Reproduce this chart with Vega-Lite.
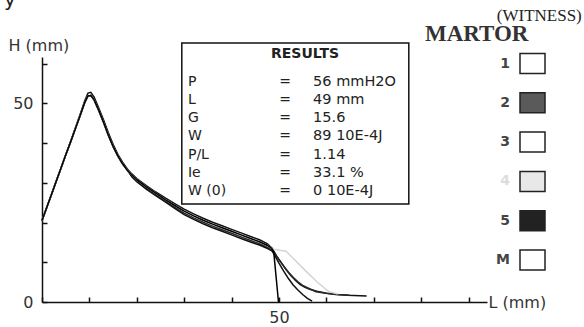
{
  "$schema": "https://vega.github.io/schema/vega-lite/v6.json",
  "width": 445,
  "height": 245,
  "autosize": {"type": "none"},
  "padding": {"left": 42, "top": 57, "right": 97, "bottom": 25},
  "background": "white",
  "config": {
    "view": {"stroke": null},
    "font": "DejaVu Sans",
    "axisX": {
      "values": [0,10,20,30,40,50,60,70,80,90],
      "grid": false, "domainColor": "#111", "domainWidth": 1.5,
      "tickColor": "#111", "tickWidth": 1.5, "tickSize": -5,
      "labelExpr": "datum.value == 50 ? '50' : ''",
      "labelFontSize": 16, "labelColor": "#333", "labelPadding": 12, "labelFlush": false,
      "titleX": 446, "titleY": 0, "titleAlign": "left", "titleBaseline": "middle",
      "titleFontSize": 16, "titleFontWeight": "normal", "titleColor": "#333"
    },
    "axisY": {
      "values": [0,10,20,30,40,50,60],
      "grid": false, "domainColor": "#111", "domainWidth": 1.5,
      "tickColor": "#111", "tickWidth": 1.5, "tickSize": -5,
      "labelExpr": "datum.value == 0 || datum.value == 50 ? datum.label : ''",
      "labelFontSize": 16, "labelColor": "#333", "labelPadding": 14, "labelFlush": false,
      "titleAngle": 0, "titleX": -34, "titleY": -12, "titleAlign": "left", "titleBaseline": "middle",
      "titleFontSize": 16, "titleFontWeight": "normal", "titleColor": "#333"
    }
  },
  "datasets": {
    "curves": [
      {"series":"1","L":0,"H":20.5},{"series":"1","L":1,"H":23.8},{"series":"1","L":2,"H":27.1},{"series":"1","L":3,"H":30.4},{"series":"1","L":4,"H":33.7},{"series":"1","L":5,"H":37.0},{"series":"1","L":6,"H":40.3},{"series":"1","L":7,"H":43.7},{"series":"1","L":8,"H":47.1},{"series":"1","L":9,"H":50.6},{"series":"1","L":9.7,"H":52.6},{"series":"1","L":10.3,"H":52.8},{"series":"1","L":11,"H":51.6},{"series":"1","L":12,"H":48.8},{"series":"1","L":13,"H":45.8},{"series":"1","L":14,"H":42.6},{"series":"1","L":15,"H":39.7},{"series":"1","L":16,"H":37.2},{"series":"1","L":17,"H":35.2},{"series":"1","L":18,"H":33.5},{"series":"1","L":19,"H":32.2},{"series":"1","L":20,"H":31.1},{"series":"1","L":22,"H":29.3},{"series":"1","L":24,"H":27.7},{"series":"1","L":26,"H":26.2},{"series":"1","L":28,"H":24.8},{"series":"1","L":30,"H":23.4},{"series":"1","L":32,"H":22.2},{"series":"1","L":34,"H":21.1},{"series":"1","L":36,"H":20.1},{"series":"1","L":38,"H":19.2},{"series":"1","L":40,"H":18.3},{"series":"1","L":42,"H":17.4},{"series":"1","L":44,"H":16.5},{"series":"1","L":46,"H":15.6},{"series":"1","L":47.5,"H":14.7},{"series":"1","L":48.5,"H":13.6},{"series":"1","L":49.5,"H":11.6},{"series":"1","L":50.5,"H":9.9},{"series":"1","L":51.5,"H":8.2},{"series":"1","L":52.5,"H":6.7},{"series":"1","L":53.5,"H":5.4},{"series":"1","L":54.5,"H":4.4},{"series":"1","L":55.5,"H":3.7},{"series":"1","L":56.5,"H":3.2},{"series":"1","L":58,"H":2.7},{"series":"1","L":60,"H":2.2},{"series":"1","L":62,"H":1.9},{"series":"1","L":64.5,"H":1.7},{"series":"1","L":68.5,"H":1.5},

      {"series":"2","L":0,"H":20.5},{"series":"2","L":1,"H":23.8},{"series":"2","L":2,"H":27.1},{"series":"2","L":3,"H":30.4},{"series":"2","L":4,"H":33.7},{"series":"2","L":5,"H":37.0},{"series":"2","L":6,"H":40.2},{"series":"2","L":7,"H":43.5},{"series":"2","L":8,"H":46.8},{"series":"2","L":9,"H":50.2},{"series":"2","L":9.7,"H":51.9},{"series":"2","L":10.3,"H":52.0},{"series":"2","L":11,"H":50.9},{"series":"2","L":12,"H":48.2},{"series":"2","L":13,"H":45.2},{"series":"2","L":14,"H":42.0},{"series":"2","L":15,"H":39.2},{"series":"2","L":16,"H":36.8},{"series":"2","L":17,"H":34.8},{"series":"2","L":18,"H":33.2},{"series":"2","L":19,"H":31.6},{"series":"2","L":20,"H":30.4},{"series":"2","L":22,"H":28.6},{"series":"2","L":24,"H":27.0},{"series":"2","L":26,"H":25.4},{"series":"2","L":28,"H":23.9},{"series":"2","L":30,"H":22.4},{"series":"2","L":32,"H":21.2},{"series":"2","L":34,"H":20.1},{"series":"2","L":36,"H":19.1},{"series":"2","L":38,"H":18.2},{"series":"2","L":40,"H":17.3},{"series":"2","L":42,"H":16.4},{"series":"2","L":44,"H":15.5},{"series":"2","L":46,"H":14.6},{"series":"2","L":47.5,"H":13.8},{"series":"2","L":48.5,"H":13.1},{"series":"2","L":49,"H":12.4},{"series":"2","L":50,"H":10.6},{"series":"2","L":51,"H":9.0},{"series":"2","L":52,"H":7.5},{"series":"2","L":53,"H":6.2},{"series":"2","L":54,"H":5.1},{"series":"2","L":55,"H":4.2},{"series":"2","L":56,"H":3.6},{"series":"2","L":57.8,"H":2.6},{"series":"2","L":60,"H":2.2},{"series":"2","L":62.5,"H":1.9},{"series":"2","L":65,"H":1.7},

      {"series":"3","L":0,"H":20.5},{"series":"3","L":1,"H":23.8},{"series":"3","L":2,"H":27.1},{"series":"3","L":3,"H":30.4},{"series":"3","L":4,"H":33.7},{"series":"3","L":5,"H":37.0},{"series":"3","L":6,"H":40.2},{"series":"3","L":7,"H":43.5},{"series":"3","L":8,"H":46.8},{"series":"3","L":9,"H":50.2},{"series":"3","L":9.7,"H":51.9},{"series":"3","L":10.3,"H":52.0},{"series":"3","L":11,"H":50.9},{"series":"3","L":12,"H":48.2},{"series":"3","L":13,"H":45.2},{"series":"3","L":14,"H":42.0},{"series":"3","L":15,"H":39.2},{"series":"3","L":16,"H":36.8},{"series":"3","L":17,"H":34.8},{"series":"3","L":18,"H":33.2},{"series":"3","L":19,"H":31.5},{"series":"3","L":20,"H":30.3},{"series":"3","L":22,"H":28.4},{"series":"3","L":24,"H":26.8},{"series":"3","L":26,"H":25.2},{"series":"3","L":28,"H":23.6},{"series":"3","L":30,"H":22.0},{"series":"3","L":32,"H":20.8},{"series":"3","L":34,"H":19.7},{"series":"3","L":36,"H":18.7},{"series":"3","L":38,"H":17.8},{"series":"3","L":40,"H":16.9},{"series":"3","L":42,"H":16.0},{"series":"3","L":44,"H":15.1},{"series":"3","L":46,"H":14.3},{"series":"3","L":47.5,"H":13.5},{"series":"3","L":48.5,"H":12.9},{"series":"3","L":49,"H":12.0},{"series":"3","L":50,"H":9.8},{"series":"3","L":51,"H":7.8},{"series":"3","L":52,"H":5.9},{"series":"3","L":53,"H":4.3},{"series":"3","L":54,"H":3.0},{"series":"3","L":55,"H":1.9},{"series":"3","L":56,"H":0.9},{"series":"3","L":57,"H":0.2},

      {"series":"4","L":0,"H":20.5},{"series":"4","L":1,"H":23.8},{"series":"4","L":2,"H":27.1},{"series":"4","L":3,"H":30.4},{"series":"4","L":4,"H":33.7},{"series":"4","L":5,"H":37.0},{"series":"4","L":6,"H":40.2},{"series":"4","L":7,"H":43.5},{"series":"4","L":8,"H":46.8},{"series":"4","L":9,"H":50.2},{"series":"4","L":9.7,"H":51.9},{"series":"4","L":10.3,"H":52.0},{"series":"4","L":11,"H":50.9},{"series":"4","L":12,"H":48.2},{"series":"4","L":13,"H":45.2},{"series":"4","L":14,"H":42.0},{"series":"4","L":15,"H":39.2},{"series":"4","L":16,"H":36.8},{"series":"4","L":17,"H":34.8},{"series":"4","L":18,"H":33.2},{"series":"4","L":19,"H":31.9},{"series":"4","L":20,"H":30.8},{"series":"4","L":22,"H":29.0},{"series":"4","L":24,"H":27.4},{"series":"4","L":26,"H":25.8},{"series":"4","L":28,"H":24.3},{"series":"4","L":30,"H":22.9},{"series":"4","L":32,"H":21.7},{"series":"4","L":34,"H":20.6},{"series":"4","L":36,"H":19.6},{"series":"4","L":38,"H":18.7},{"series":"4","L":40,"H":17.8},{"series":"4","L":42,"H":16.9},{"series":"4","L":44,"H":16.0},{"series":"4","L":46,"H":15.1},{"series":"4","L":47.5,"H":14.3},{"series":"4","L":48.5,"H":13.5},{"series":"4","L":49.2,"H":13.2},{"series":"4","L":51.5,"H":12.8},{"series":"4","L":55,"H":8.6},{"series":"4","L":58,"H":5.1},{"series":"4","L":60.5,"H":2.6},{"series":"4","L":62.5,"H":2.0},

      {"series":"5","L":0,"H":20.5},{"series":"5","L":1,"H":23.8},{"series":"5","L":2,"H":27.1},{"series":"5","L":3,"H":30.4},{"series":"5","L":4,"H":33.7},{"series":"5","L":5,"H":37.0},{"series":"5","L":6,"H":40.2},{"series":"5","L":7,"H":43.5},{"series":"5","L":8,"H":46.8},{"series":"5","L":9,"H":50.2},{"series":"5","L":9.7,"H":51.9},{"series":"5","L":10.3,"H":52.0},{"series":"5","L":11,"H":50.9},{"series":"5","L":12,"H":48.2},{"series":"5","L":13,"H":45.2},{"series":"5","L":14,"H":42.0},{"series":"5","L":15,"H":39.2},{"series":"5","L":16,"H":36.8},{"series":"5","L":17,"H":34.8},{"series":"5","L":18,"H":33.2},{"series":"5","L":19,"H":31.9},{"series":"5","L":20,"H":30.8},{"series":"5","L":22,"H":29.0},{"series":"5","L":24,"H":27.4},{"series":"5","L":26,"H":25.8},{"series":"5","L":28,"H":24.3},{"series":"5","L":30,"H":22.9},{"series":"5","L":32,"H":21.7},{"series":"5","L":34,"H":20.6},{"series":"5","L":36,"H":19.6},{"series":"5","L":38,"H":18.7},{"series":"5","L":40,"H":17.8},{"series":"5","L":42,"H":16.9},{"series":"5","L":44,"H":16.0},{"series":"5","L":46,"H":15.1},{"series":"5","L":47.5,"H":14.3},{"series":"5","L":48.5,"H":13.5},{"series":"5","L":48.9,"H":12.6},{"series":"5","L":49.9,"H":0}
    ]
  },
  "layer": [
    {
      "data": {"values": [{}]},
      "mark": {"type": "rect", "fill": "white", "stroke": "#111", "strokeWidth": 1.5},
      "encoding": {
        "x": {"datum": 29.5, "type": "quantitative", "title": "L (mm)"},
        "x2": {"datum": 77.4},
        "y": {"datum": 65.2, "type": "quantitative", "title": "H (mm)"},
        "y2": {"datum": 24.7}
      }
    },
    {
      "data": {"name": "curves"},
      "mark": {"type": "line", "strokeWidth": 1.5},
      "encoding": {
        "x": {
          "field": "L", "type": "quantitative", "title": "L (mm)",
          "scale": {"domain": [0, 93.9], "nice": false, "zero": false}
        },
        "y": {
          "field": "H", "type": "quantitative", "title": "H (mm)",
          "scale": {"domain": [0, 61.7], "nice": false, "zero": false}
        },
        "stroke": {
          "field": "series", "type": "nominal",
          "scale": {"domain": ["1","2","3","4","5"], "range": ["#111111","#2a2a2a","#111111","#d4d4d4","#000000"]},
          "legend": null
        }
      }
    },
    {
      "data": {"name": "curves"},
      "mark": {"type": "point", "filled": true, "size": 0, "opacity": 0},
      "encoding": {
        "x": {"field": "L", "type": "quantitative", "title": "L (mm)"},
        "y": {"field": "H", "type": "quantitative", "title": "H (mm)"},
        "fill": {
          "field": "series", "type": "nominal",
          "scale": {"domain": ["1","2","3","4","5","M"], "range": ["#ffffff","#5a5a5a","#ffffff","#e8e8e8","#222222","#ffffff"]},
          "legend": {
            "title": null, "orient": "none", "legendX": 383, "legendY": -7, "padding": 0,
            "symbolType": "M-1,-0.8H1V0.8H-1Z", "symbolSize": 625,
            "symbolStrokeColor": "#222", "symbolStrokeWidth": 1.5,
            "symbolOffset": 94, "labelOffset": -36, "labelAlign": "right",
            "labelFont": "DejaVu Sans", "labelFontSize": 14, "labelFontWeight": "bold",
            "rowPadding": 12.3, "symbolOpacity": 1,
            "encode": {
              "labels": {"update": {"fill": {"signal": "datum.label === '4' ? '#dcdcdc' : '#444'"}}},
              "symbols": {"update": {"stroke": {"value": "#222"}, "strokeWidth": {"value": 1.5}, "opacity": {"value": 1}, "fillOpacity": {"value": 1}}}
            }
          }
        }
      }
    },
    {
      "data": {"values": [{"t": "RESULTS"}]},
      "mark": {"type": "text", "font": "DejaVu Sans", "fontSize": 14, "fontWeight": "bold", "color": "#222", "align": "center", "baseline": "middle"},
      "encoding": {
        "x": {"datum": 55.5, "type": "quantitative", "title": "L (mm)"},
        "y": {"datum": 62.5, "type": "quantitative", "title": "H (mm)"},
        "text": {"field": "t"}
      }
    },
    {
      "data": {"values": [{"t": ["P","L","G","W","P/L","Ie","W (0)"]}]},
      "mark": {"type": "text", "font": "DejaVu Sans", "fontSize": 14, "color": "#222", "align": "left", "baseline": "top", "lineHeight": 18.2},
      "encoding": {
        "x": {"datum": 30.8, "type": "quantitative", "title": "L (mm)"},
        "y": {"datum": 57.2, "type": "quantitative", "title": "H (mm)"},
        "text": {"field": "t"}
      }
    },
    {
      "data": {"values": [{"t": ["=","=","=","=","=","=","="]}]},
      "mark": {"type": "text", "font": "DejaVu Sans", "fontSize": 14, "color": "#222", "align": "center", "baseline": "top", "lineHeight": 18.2},
      "encoding": {
        "x": {"datum": 51.3, "type": "quantitative", "title": "L (mm)"},
        "y": {"datum": 57.2, "type": "quantitative", "title": "H (mm)"},
        "text": {"field": "t"}
      }
    },
    {
      "data": {"values": [{"t": ["56 mmH2O","49 mm","15.6","89 10E-4J","1.14","33.1 %"," 0 10E-4J"]}]},
      "mark": {"type": "text", "font": "DejaVu Sans", "fontSize": 14.5, "color": "#222", "align": "left", "baseline": "top", "lineHeight": 18.2},
      "encoding": {
        "x": {"datum": 57.2, "type": "quantitative", "title": "L (mm)"},
        "y": {"datum": 57.2, "type": "quantitative", "title": "H (mm)"},
        "text": {"field": "t"}
      }
    },
    {
      "data": {"values": [{"t": "(WITNESS)"}]},
      "mark": {"type": "text", "font": "Liberation Serif", "fontSize": 17, "color": "#222", "align": "right", "baseline": "alphabetic"},
      "encoding": {
        "x": {"datum": 113.9, "type": "quantitative", "title": "L (mm)"},
        "y": {"datum": 70.8, "type": "quantitative", "title": "H (mm)"},
        "text": {"field": "t"}
      }
    },
    {
      "data": {"values": [{"t": "MARTOR"}]},
      "mark": {"type": "text", "font": "Liberation Serif", "fontSize": 23, "fontWeight": "bold", "color": "#333", "align": "left", "baseline": "alphabetic"},
      "encoding": {
        "x": {"datum": 80.8, "type": "quantitative", "title": "L (mm)"},
        "y": {"datum": 65.7, "type": "quantitative", "title": "H (mm)"},
        "text": {"field": "t"}
      }
    },
    {
      "data": {"values": [{"t": "y"}]},
      "mark": {"type": "text", "font": "DejaVu Sans", "fontSize": 20, "color": "#222", "align": "left", "baseline": "alphabetic"},
      "encoding": {
        "x": {"datum": -8, "type": "quantitative", "title": "L (mm)"},
        "y": {"datum": 74.6, "type": "quantitative", "title": "H (mm)"},
        "text": {"field": "t"}
      }
    }
  ]
}
